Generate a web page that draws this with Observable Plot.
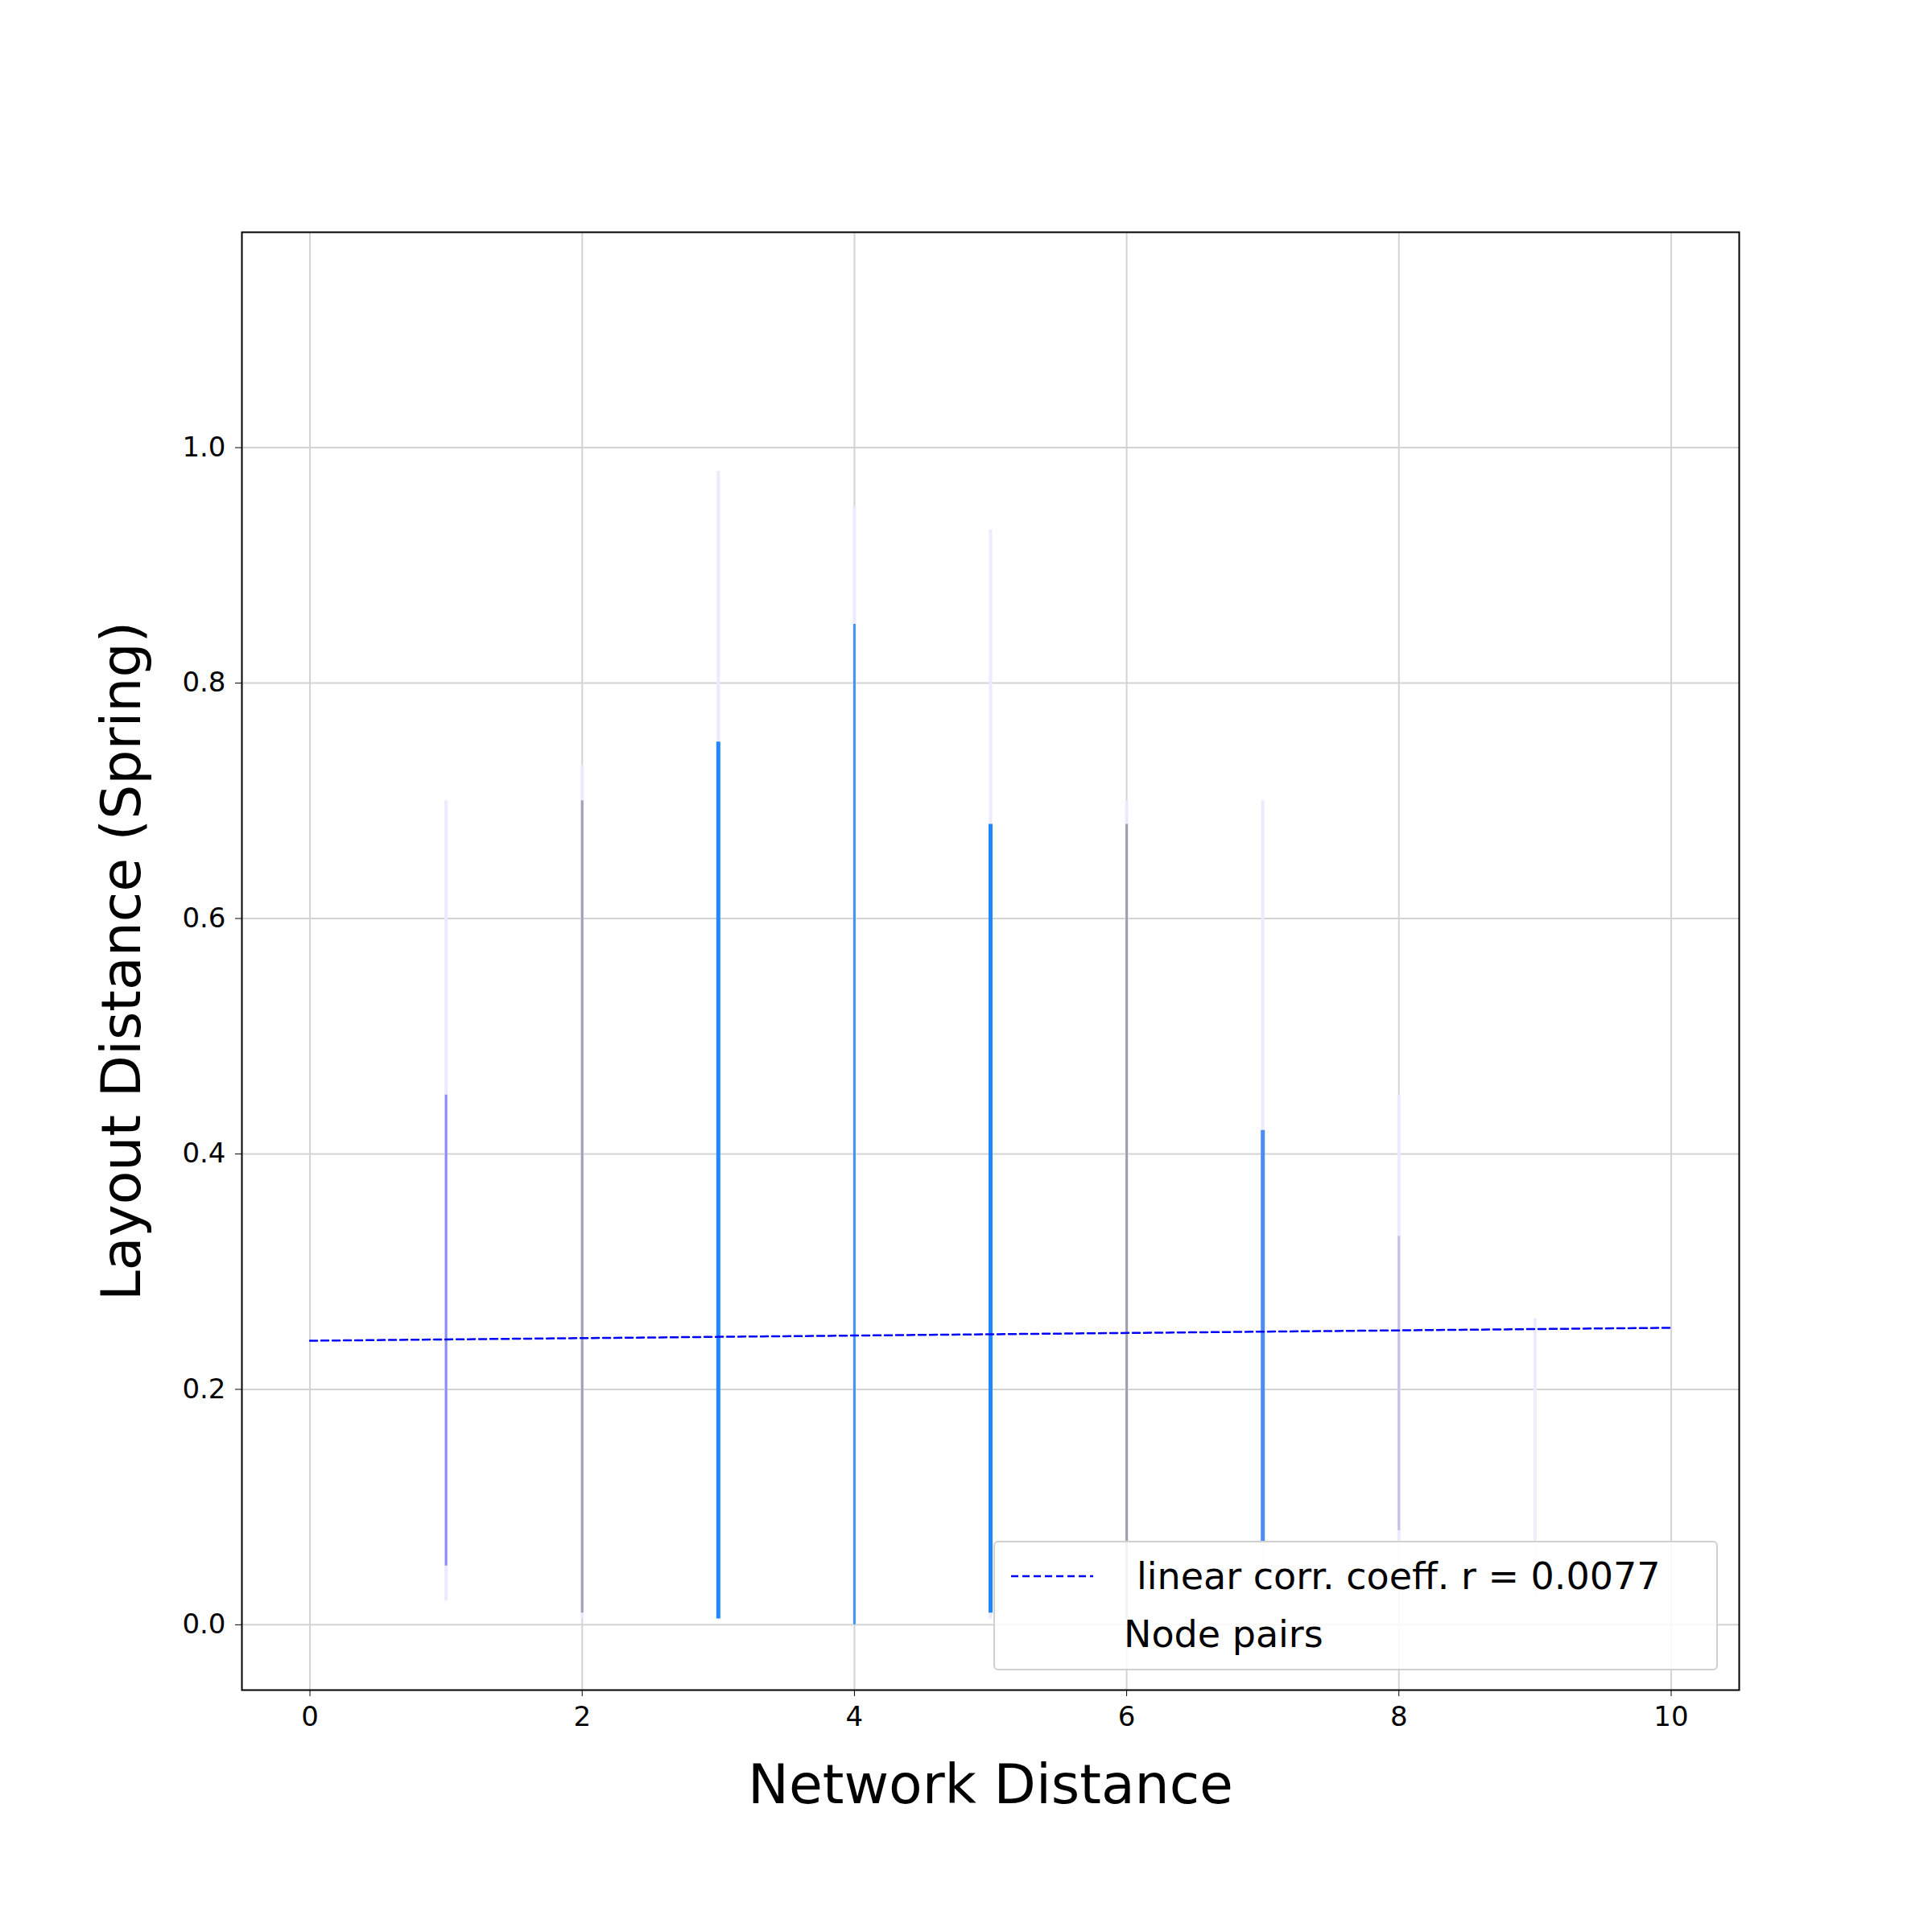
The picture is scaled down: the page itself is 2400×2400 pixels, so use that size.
<!DOCTYPE html>
<html><head><meta charset="utf-8">
<script src="https://cdn.jsdelivr.net/npm/d3@7"></script>
<script src="https://cdn.jsdelivr.net/npm/@observablehq/plot@0.6"></script>
<style>body{margin:0;background:#fff;font-family:"DejaVu Sans",sans-serif}#wrap{position:relative;width:2400px;height:2400px}
#legend{position:absolute;left:1234px;top:1914px;width:900px;height:161px;border:2px solid #d0d0d0;border-radius:6px;background:rgba(255,255,255,0.85);box-sizing:border-box}
</style></head><body><div id="wrap"></div>
<script>
const distances=[1,2,3,4,5,6,7,8,9];
const faintLo=[0.02,0.005,0.005,0.0,0.005,0.0,0.03,0.05,0.02];
const faintHi=[0.70,0.73,0.98,0.95,0.93,0.70,0.70,0.45,0.26];
const coreLo=[0.05,0.01,0.005,0.0,0.01,0.005,0.07,0.08,0.05];
const coreHi=[0.45,0.70,0.75,0.85,0.68,0.68,0.42,0.33,0.2];
const coreColor=["#8c8cf0","#a0a0b4","#1f88ff","#3c96f0","#1f88ff","#a0a0aa","#4d8cf5","#c8c0e8","#f0eef8"];
const coreWidth=[3,3,5,3,5,3,5,3,2];
const faintColor="#eee9ff";
const fitX=[0,10], fitY=[0.2413,0.2523];
const cols=distances.map((d,i)=>({d,flo:faintLo[i],fhi:faintHi[i],clo:coreLo[i],chi:coreHi[i],c:coreColor[i],w:coreWidth[i]}));
const fit=fitX.map((x,i)=>({x,y:fitY[i]}));
const chart=Plot.plot({
  width:2400,height:2400,marginLeft:300,marginRight:240,marginTop:288,marginBottom:301,
  style:{fontFamily:"DejaVu Sans",fontSize:"34px",color:"black"},
  x:{domain:[-0.5,10.5],ticks:[0,2,4,6,8,10],tickSize:8,tickPadding:12,label:"Network Distance",labelAnchor:"center",labelOffset:140,labelArrow:"none"},
  y:{domain:[-0.0555,1.183],ticks:[0,0.2,0.4,0.6,0.8,1.0],tickFormat:d3.format(".1f"),tickSize:8,tickPadding:12,label:"Layout Distance (Spring)",labelAnchor:"center",labelOffset:175,labelArrow:"none"},
  marks:[
    Plot.gridX([0,2,4,6,8,10],{stroke:"#d3d3d3",strokeOpacity:1,strokeWidth:2}),
    Plot.gridY([0,0.2,0.4,0.6,0.8,1.0],{stroke:"#d3d3d3",strokeOpacity:1,strokeWidth:2}),
    Plot.ruleX(cols,{x:"d",y1:"flo",y2:"fhi",stroke:faintColor,strokeWidth:4}),
    Plot.ruleX(cols,{x:"d",y1:"clo",y2:"chi",stroke:"c",strokeWidth:"w"}),
    Plot.line(fit,{x:"x",y:"y",stroke:"#0000ff",strokeWidth:2.5,strokeDasharray:"9,5"}),
    Plot.frame({stroke:"black",strokeWidth:2})
  ]
});
chart.querySelectorAll("g[aria-label='x-axis label'], g[aria-label='y-axis label']").forEach(e=>{e.setAttribute("font-size","68px");e.querySelectorAll("text").forEach(t=>t.setAttribute("font-size","68px"));});
const wrap=document.getElementById("wrap");
wrap.appendChild(chart);
const lg=document.createElement("div");lg.id="legend";
lg.innerHTML=`<svg width="896" height="157" style="position:absolute;left:0;top:0"><line x1="20" y1="42" x2="122" y2="42" stroke="#0000ff" stroke-width="2.5" stroke-dasharray="9,5"/>
<text x="176" y="58" font-size="46" font-family="DejaVu Sans">linear corr. coeff. r = 0.0077</text>
<text x="160" y="130" font-size="46" font-family="DejaVu Sans">Node pairs</text></svg>`;
wrap.appendChild(lg);
</script></body></html>
